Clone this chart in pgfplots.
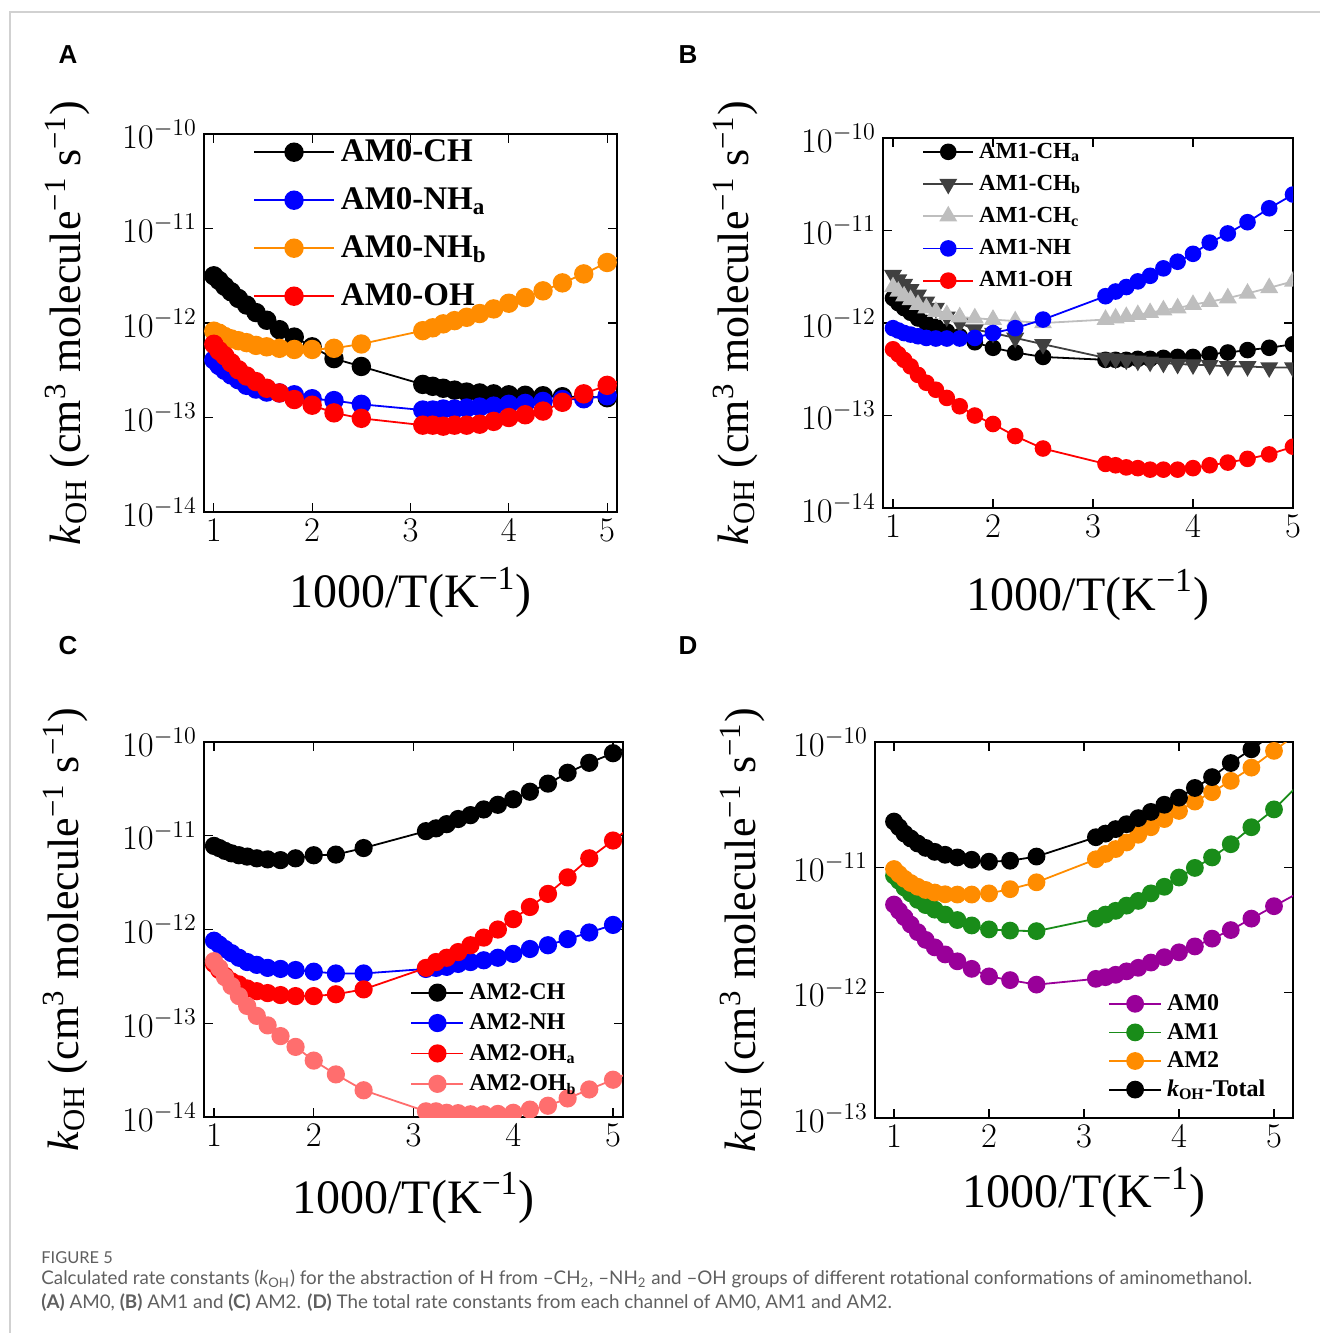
\documentclass[border=0pt]{standalone}
\usepackage{pgfplots}
\pgfplotsset{compat=1.18}
\usepackage{pgfplotstable}
\usepackage{fontspec}
\setmainfont{Liberation Serif}
\newfontfamily\labfont{Liberation Sans}
\newfontfamily\capfont{Lato}

\definecolor{orng}{RGB}{255,140,0}
\definecolor{dgray}{RGB}{64,64,64}
\definecolor{lgray}{RGB}{190,190,190}
\definecolor{lred}{RGB}{255,110,110}
\definecolor{purp}{RGB}{153,0,153}
\definecolor{grn}{RGB}{25,140,25}
\definecolor{capgray}{RGB}{95,95,95}

% panel A: AM0 channels
\pgfplotstableread{
x     ch       nha      nhb      oh
1.000 3.16e-12 4.07e-13 8.2e-13  5.96e-13
1.053 2.82e-12 3.55e-13 7.8e-13  5.1e-13
1.111 2.45e-12 3.16e-13 7.2e-13  4.5e-13
1.176 2.14e-12 2.82e-13 6.8e-13  3.8e-13
1.250 1.82e-12 2.51e-13 6.5e-13  3.2e-13
1.333 1.55e-12 2.19e-13 6.2e-13  2.75e-13
1.429 1.29e-12 2.00e-13 5.8e-13  2.4e-13
1.538 1.07e-12 1.86e-13 5.6e-13  2.04e-13
1.667 8.5e-13  1.82e-13 5.4e-13  1.82e-13
1.818 7.1e-13  1.74e-13 5.25e-13 1.55e-13
2.000 5.6e-13  1.58e-13 5.25e-13 1.35e-13
2.222 4.2e-13  1.51e-13 5.4e-13  1.12e-13
2.500 3.47e-13 1.38e-13 6.0e-13  9.8e-14
3.125 2.24e-13 1.20e-13 8.3e-13  8.3e-14
3.226 2.14e-13 1.20e-13 8.9e-13  8.3e-14
3.333 2.04e-13 1.23e-13 9.8e-13  8.1e-14
3.448 1.95e-13 1.23e-13 1.06e-12 8.3e-14
3.571 1.86e-13 1.26e-13 1.15e-12 8.3e-14
3.704 1.82e-13 1.29e-13 1.26e-12 8.5e-14
3.846 1.78e-13 1.32e-13 1.41e-12 9.1e-14
4.000 1.74e-13 1.38e-13 1.62e-12 1.0e-13
4.167 1.72e-13 1.41e-13 1.86e-12 1.07e-13
4.348 1.70e-13 1.48e-13 2.19e-12 1.17e-13
4.545 1.66e-13 1.55e-13 2.66e-12 1.45e-13
4.762 1.66e-13 1.58e-13 3.31e-12 1.78e-13
5.000 1.62e-13 1.70e-13 4.37e-12 2.19e-13
5.263 1.6e-13  1.8e-13  5.9e-12  2.75e-13
}\tA

% panel B: AM1 channels
\pgfplotstableread{
x     cha      chb      chc      nh       oh
1.000 1.86e-12 3.3e-12  2.45e-12 8.8e-13  5.2e-13
1.053 1.64e-12 2.95e-12 2.19e-12 8.3e-13  4.6e-13
1.111 1.45e-12 2.63e-12 1.95e-12 7.8e-13  4.0e-13
1.176 1.29e-12 2.32e-12 1.78e-12 7.5e-13  3.4e-13
1.250 1.12e-12 2.02e-12 1.58e-12 7.2e-13  2.75e-13
1.333 1.00e-12 1.70e-12 1.45e-12 6.9e-13  2.26e-13
1.429 9.1e-13  1.45e-12 1.33e-12 6.8e-13  1.9e-13
1.538 8.1e-13  1.17e-12 1.23e-12 6.8e-13  1.55e-13
1.667 7.2e-13  1.00e-12 1.16e-12 6.8e-13  1.26e-13
1.818 6.2e-13  8.5e-13  1.13e-12 6.9e-13  1.0e-13
2.000 5.4e-13  7.8e-13  1.09e-12 7.8e-13  8.1e-14
2.222 4.8e-13  6.9e-13  1.05e-12 8.8e-13  6.0e-14
2.500 4.3e-13  5.9e-13  1.00e-12 1.09e-12 4.4e-14
3.125 4.0e-13  4.2e-13  1.09e-12 1.95e-12 3.0e-14
3.226 4.0e-13  4.1e-13  1.13e-12 2.19e-12 2.9e-14
3.333 4.0e-13  4.0e-13  1.17e-12 2.45e-12 2.75e-14
3.448 4.1e-13  3.9e-13  1.23e-12 2.82e-12 2.7e-14
3.571 4.1e-13  3.8e-13  1.29e-12 3.24e-12 2.6e-14
3.704 4.2e-13  3.7e-13  1.38e-12 3.9e-12  2.6e-14
3.846 4.3e-13  3.6e-13  1.45e-12 4.6e-12  2.6e-14
4.000 4.3e-13  3.55e-13 1.58e-12 5.6e-12  2.7e-14
4.167 4.6e-13  3.5e-13  1.70e-12 7.4e-12  2.9e-14
4.348 4.8e-13  3.4e-13  1.86e-12 9.3e-12  3.1e-14
4.545 5.1e-13  3.4e-13  2.09e-12 1.23e-11 3.4e-14
4.762 5.4e-13  3.3e-13  2.4e-12  1.74e-11 3.8e-14
5.000 5.9e-13  3.3e-13  2.82e-12 2.45e-11 4.6e-14
}\tB

% panel C: AM2 channels
\pgfplotstableread{
x     ch       nh       oha      ohb
1.000 7.8e-12  7.6e-13  4.3e-13  4.6e-13
1.053 7.4e-12  6.9e-13  3.7e-13  3.9e-13
1.111 6.9e-12  6.2e-13  3.2e-13  3.1e-13
1.176 6.5e-12  5.6e-13  2.8e-13  2.5e-13
1.250 6.2e-12  5.0e-13  2.6e-13  1.95e-13
1.333 6.0e-12  4.5e-13  2.35e-13 1.53e-13
1.429 5.75e-12 4.2e-13  2.2e-13  1.2e-13
1.538 5.6e-12  3.9e-13  2.1e-13  9.5e-14
1.667 5.5e-12  3.8e-13  2.0e-13  7.3e-14
1.818 5.75e-12 3.7e-13  1.95e-13 5.6e-14
2.000 6.2e-12  3.55e-13 1.95e-13 4.0e-14
2.222 6.3e-12  3.4e-13  2.04e-13 2.85e-14
2.500 7.4e-12  3.4e-13  2.3e-13  1.93e-14
3.125 1.12e-11 3.8e-13  3.9e-13  1.15e-14
3.226 1.20e-11 3.9e-13  4.5e-13  1.15e-14
3.333 1.33e-11 4.0e-13  5.0e-13  1.11e-14
3.448 1.51e-11 4.3e-13  5.75e-13 1.10e-14
3.571 1.66e-11 4.5e-13  6.8e-13  1.07e-14
3.704 1.91e-11 4.7e-13  8.2e-13  1.07e-14
3.846 2.14e-11 5.0e-13  1.0e-12  1.08e-14
4.000 2.45e-11 5.5e-13  1.29e-12 1.11e-14
4.167 2.95e-11 6.2e-13  1.74e-12 1.2e-14
4.348 3.6e-11  6.8e-13  2.4e-12  1.32e-14
4.545 4.7e-11  7.9e-13  3.6e-12  1.58e-14
4.762 6.0e-11  9.3e-13  5.75e-12 1.97e-14
5.000 7.6e-11  1.12e-12 8.9e-12  2.5e-14
5.263 9.8e-11  1.38e-12 1.45e-11 3.3e-14
}\tC

% panel D: totals per conformer
\pgfplotstableread{
x     am0      am1      am2      tot
1.000 5.05e-12 8.6e-12  9.7e-12  2.32e-11
1.053 4.5e-12  7.8e-12  8.85e-12 2.09e-11
1.111 4.0e-12  6.9e-12  8.1e-12  1.86e-11
1.176 3.5e-12  6.2e-12  7.5e-12  1.70e-11
1.250 3.04e-12 5.5e-12  7.0e-12  1.55e-11
1.333 2.64e-12 5.0e-12  6.6e-12  1.43e-11
1.429 2.3e-12  4.6e-12  6.3e-12  1.33e-11
1.538 2.02e-12 4.2e-12  6.1e-12  1.26e-11
1.667 1.78e-12 3.8e-12  6.07e-12 1.20e-11
1.818 1.55e-12 3.44e-12 6.07e-12 1.15e-11
2.000 1.35e-12 3.2e-12  6.2e-12  1.11e-11
2.222 1.26e-12 3.13e-12 6.7e-12  1.13e-11
2.500 1.16e-12 3.1e-12  7.6e-12  1.22e-11
3.125 1.29e-12 3.9e-12  1.16e-11 1.74e-11
3.226 1.33e-12 4.2e-12  1.28e-11 1.86e-11
3.333 1.39e-12 4.5e-12  1.40e-11 2.02e-11
3.448 1.48e-12 4.95e-12 1.58e-11 2.21e-11
3.571 1.58e-12 5.4e-12  1.82e-11 2.47e-11
3.704 1.74e-12 6.2e-12  2.09e-11 2.77e-11
3.846 1.92e-12 7.0e-12  2.43e-11 3.16e-11
4.000 2.1e-12  8.3e-12  2.82e-11 3.6e-11
4.167 2.34e-12 9.9e-12  3.35e-11 4.3e-11
4.348 2.7e-12  1.2e-11  3.98e-11 5.25e-11
4.545 3.16e-12 1.53e-11 4.9e-11  6.8e-11
4.762 3.9e-12  2.09e-11 6.25e-11 8.75e-11
5.000 4.9e-12  2.9e-11  8.5e-11  1.17e-10
5.263 6.3e-12  4.6e-11  1.2e-10  1.6e-10
}\tD

\pgfplotsset{
  every axis/.append style={
    scale only axis,
    xtick={1,2,3,4,5},
    minor tick length=0pt, major tick length=4.5pt,
    tick style={black, line width=0.6pt},
    axis line style={line width=0.7pt},
    tick label style={font=\fontsize{17.5}{17.5}\selectfont},
    xlabel style={font=\fontsize{24}{24}\selectfont},
    ylabel style={font=\fontsize{22}{22}\selectfont},
    clip marker paths=true,
    legend cell align=left,
  },
  every axis plot/.append style={line width=0.9pt, mark=*},
}
\newcommand{\kx}{1000/T(K\textsuperscript{−1})}
\newcommand{\ky}{\textit{k}\textsubscript{OH} (cm\textsuperscript{3} molecule\textsuperscript{−1} s\textsuperscript{−1})}

\begin{document}
\begin{tikzpicture}
\path[use as bounding box] (0,0) rectangle (660pt,-666.5pt);
\draw[black!18, line width=0.6pt] (5pt,-666.5pt) -- (5pt,-6pt) -- (660pt,-6pt);

\node[font=\labfont\bfseries\fontsize{13}{13}\selectfont] at (34pt,-27.5pt) {A};
\node[font=\labfont\bfseries\fontsize{13}{13}\selectfont] at (344pt,-27.5pt) {B};
\node[font=\labfont\bfseries\fontsize{13}{13}\selectfont] at (34pt,-323pt) {C};
\node[font=\labfont\bfseries\fontsize{13}{13}\selectfont] at (344pt,-323pt) {D};

% A
\begin{axis}[ymode=log, at={(102pt,-67pt)}, anchor=north west,
  width=206.5pt, height=189pt,
  xmin=0.9, xmax=5.1, ymin=1e-14, ymax=1e-10,
  xlabel={\kx}, ylabel={\ky},
  ylabel style={at={(axis description cs:-0.33,0.5)}, anchor=center},
  xlabel style={at={(axis description cs:0.5,-0.214)}, anchor=center},
  legend image code/.code={\draw[mark repeat=2,mark phase=2] plot coordinates {(0pt,0pt) (20pt,0pt) (40pt,0pt)};},
  legend style={at={(0.118,0.99)}, anchor=north west, draw=none, fill=none,
    inner sep=0pt, row sep=10pt, font=\fontsize{16.5}{16.5}\selectfont\bfseries,
    nodes={inner xsep=3pt, inner ysep=0pt, text height=11.5pt, text depth=2.5pt}},
  every axis plot/.append style={mark size=4.4pt}]
\addplot[black] table[x=x,y=ch]{\tA};
\addplot[blue] table[x=x,y=nha]{\tA};
\addplot[orng] table[x=x,y=nhb]{\tA};
\addplot[red] table[x=x,y=oh]{\tA};
\legend{AM0-CH, AM0-NH\textsubscript{a}, AM0-NH\textsubscript{b}, AM0-OH}
\end{axis}

% B
\begin{axis}[ymode=log, at={(441.5pt,-69pt)}, anchor=north west,
  width=205pt, height=185pt,
  xmin=0.9, xmax=5, ymin=1e-14, ymax=1e-10,
  xlabel={\kx}, ylabel={\ky},
  ylabel style={at={(axis description cs:-0.36,0.5)}, anchor=center},
  xlabel style={at={(axis description cs:0.5,-0.235)}, anchor=center},
  legend image code/.code={\draw[mark repeat=2,mark phase=2] plot coordinates {(0pt,0pt) (12.5pt,0pt) (25pt,0pt)};},
  legend style={at={(0.095,0.99)}, anchor=north west, draw=none, fill=none,
    inner sep=0pt, row sep=6.4pt, font=\fontsize{11.5}{11.5}\selectfont\bfseries,
    nodes={inner xsep=2.5pt, inner ysep=0pt, text height=8pt, text depth=1.7pt}},
  every axis plot/.append style={mark size=3.7pt}]
\addplot[black] table[x=x,y=cha]{\tB};
\addplot[dgray, mark=triangle*, mark options={rotate=180}, mark size=4.3pt] table[x=x,y=chb]{\tB};
\addplot[lgray, mark=triangle*, mark size=4.3pt] table[x=x,y=chc]{\tB};
\addplot[blue] table[x=x,y=nh]{\tB};
\addplot[red] table[x=x,y=oh]{\tB};
\legend{AM1-CH\textsubscript{a}, AM1-CH\textsubscript{b}, AM1-CH\textsubscript{c}, AM1-NH, AM1-OH}
\end{axis}

% C
\begin{axis}[ymode=log, at={(102pt,-371pt)}, anchor=north west,
  width=209.5pt, height=187.5pt,
  xmin=0.9, xmax=5.1, ymin=1e-14, ymax=1e-10,
  xlabel={\kx}, ylabel={\ky},
  ylabel style={at={(axis description cs:-0.33,0.5)}, anchor=center},
  xlabel style={at={(axis description cs:0.5,-0.216)}, anchor=center},
  legend image code/.code={\draw[mark repeat=2,mark phase=2] plot coordinates {(0pt,0pt) (13pt,0pt) (26pt,0pt)};},
  legend style={at={(0.492,0.36)}, anchor=north west, draw=none, fill=none,
    inner sep=0pt, row sep=5pt, font=\fontsize{12}{12}\selectfont\bfseries,
    nodes={inner xsep=2.5pt, inner ysep=0pt, text height=8.4pt, text depth=1.8pt}},
  every axis plot/.append style={mark size=4.1pt}]
\addplot[black] table[x=x,y=ch]{\tC};
\addplot[blue] table[x=x,y=nh]{\tC};
\addplot[red] table[x=x,y=oha]{\tC};
\addplot[lred] table[x=x,y=ohb]{\tC};
\legend{AM2-CH, AM2-NH, AM2-OH\textsubscript{a}, AM2-OH\textsubscript{b}}
\end{axis}

% D
\begin{axis}[ymode=log, at={(437.5pt,-371pt)}, anchor=north west,
  width=209pt, height=188pt,
  xmin=0.8, xmax=5.2, ymin=1e-13, ymax=1e-10,
  xlabel={\kx}, ylabel={\ky},
  ylabel style={at={(axis description cs:-0.318,0.5)}, anchor=center},
  xlabel style={at={(axis description cs:0.5,-0.197)}, anchor=center},
  legend image code/.code={\draw[mark repeat=2,mark phase=2] plot coordinates {(0pt,0pt) (13pt,0pt) (26pt,0pt)};},
  legend style={at={(0.557,0.332)}, anchor=north west, draw=none, fill=none,
    inner sep=0pt, row sep=4.1pt, font=\fontsize{12}{12}\selectfont\bfseries,
    nodes={inner xsep=2.5pt, inner ysep=0pt, text height=8.4pt, text depth=1.8pt}},
  every axis plot/.append style={mark size=4pt}]
\addplot[purp] table[x=x,y=am0]{\tD};
\addplot[grn] table[x=x,y=am1]{\tD};
\addplot[orng] table[x=x,y=am2]{\tD};
\addplot[black] table[x=x,y=tot]{\tD};
\legend{AM0, AM1, AM2, \textit{k}\textsubscript{OH}-Total}
\end{axis}

\node[anchor=base west, inner sep=0pt, text=capgray, font=\capfont\fontsize{8.2}{8.2}\selectfont] at (20.5pt,-631.5pt) {FIGURE 5};
\node[anchor=base west, inner sep=0pt, text=capgray, font=\capfont\fontsize{9.4}{9.4}\selectfont] at (20.5pt,-642pt)
  {Calculated rate constants (\textit{k}\textsubscript{OH}) for the abstraction of H from –CH\textsubscript{2}, –NH\textsubscript{2} and –OH groups of different rotational conformations of aminomethanol.};
\node[anchor=base west, inner sep=0pt, text=capgray, font=\capfont\fontsize{9.4}{9.4}\selectfont] at (20.5pt,-654pt)
  {\textbf{(A)} AM0, \textbf{(B)} AM1 and \textbf{(C)} AM2. \textbf{(D)} The total rate constants from each channel of AM0, AM1 and AM2.};
\end{tikzpicture}
\end{document}
